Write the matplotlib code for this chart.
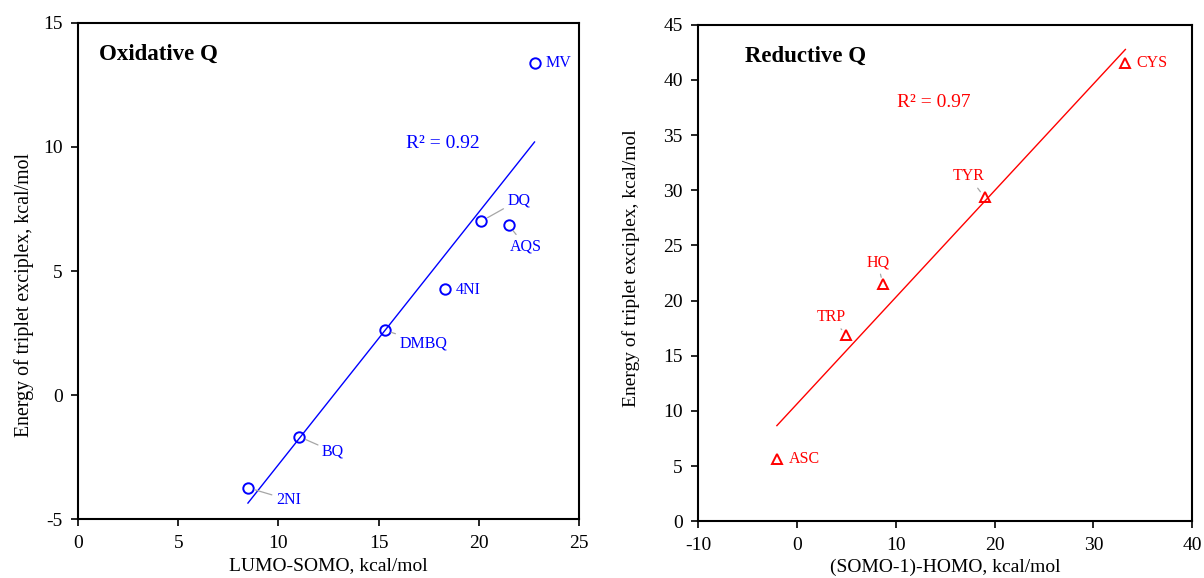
import numpy as np
import matplotlib
matplotlib.use("Agg")
import matplotlib.pyplot as plt

plt.rcParams['font.family'] = ['Liberation Serif', 'DejaVu Serif']
plt.rcParams['axes.unicode_minus'] = False

# oxidative quenchers
ox_names = ['2NI', 'BQ', 'DMBQ', '4NI', 'DQ', 'AQS', 'MV']
ox_x = [8.48, 11.03, 15.30, 18.32, 20.14, 21.50, 22.79]
ox_y = [-3.73, -1.67, 2.62, 4.28, 7.01, 6.84, 13.37]

# reductive quenchers
red_names = ['ASC', 'TRP', 'HQ', 'TYR', 'CYS']
red_x = [-2.03, 4.98, 8.68, 18.99, 33.23]
red_y = [5.65, 16.88, 21.50, 29.36, 41.50]

# label offsets in pixels (dx, dy, leader line?)
ox_offsets = {'2NI': (28, -12, True), 'BQ': (23, -15, True), 'DMBQ': (15, -13, True),
              '4NI': (11, -1, False), 'DQ': (26, 21, True), 'AQS': (1, -21, True),
              'MV': (11, 0, False)}
red_offsets = {'ASC': (12, 0, False, 'left'), 'TRP': (-15, 18, True, 'center'),
               'HQ': (-5, 22, True, 'center'), 'TYR': (-16, 21, True, 'center'),
               'CYS': (11, 0, False, 'left')}

fig = plt.figure(figsize=(12.04, 5.78), dpi=100)
ax1 = fig.add_axes([78.1/1204, 1-519.3/578, 500.7/1204, 496.6/578])
ax2 = fig.add_axes([698.1/1204, 1-521.3/578, 494.2/1204, 496.6/578])


def style(ax):
    for s in ax.spines.values():
        s.set_linewidth(1.5)
    ax.tick_params(direction='out', length=5, width=1.2, labelsize=14, pad=6)


# left panel
blue = '#0000FF'
ax1.plot(ox_x, ox_y, 'o', ms=7.5, mfc='none', mec=blue, mew=1.4, ls='none')
k, b = np.polyfit(ox_x, ox_y, 1)
xl = np.array([min(ox_x), max(ox_x)])
ax1.plot(xl, k*xl + b, color=blue, lw=1)
for n, x, y in zip(ox_names, ox_x, ox_y):
    dx, dy, lead = ox_offsets[n]
    ap = dict(arrowstyle='-', color='#a6a6a6', lw=0.9, shrinkA=1, shrinkB=5) if lead else None
    ax1.annotate(n, (x, y), xytext=(dx, dy), textcoords='offset pixels', ha='left',
                 va='center', color=blue, fontsize=11.5, arrowprops=ap)
ax1.set_xlim(0, 25)
ax1.set_ylim(-5, 15)
ax1.set_xticks(range(0, 26, 5))
ax1.set_yticks(range(-5, 16, 5))
ax1.text(0.042, 0.937, 'Oxidative Q', transform=ax1.transAxes, fontsize=16.5,
         fontweight='bold', va='center', ha='left')
ax1.text(0.655, 0.757, 'R² = 0.92', transform=ax1.transAxes, fontsize=14,
         color=blue, va='center', ha='left')
ax1.set_xlabel('LUMO-SOMO, kcal/mol', fontsize=14, labelpad=4)
ax1.set_ylabel('Energy of triplet exciplex, kcal/mol', fontsize=14.3, labelpad=6.5)
ax1.yaxis.label.set_y(0.452)
style(ax1)

# right panel
red = '#FF0000'
ax2.plot(red_x, red_y, '^', ms=7.5, mfc='none', mec=red, mew=1.4, ls='none')
k, b = np.polyfit(red_x, red_y, 1)
xr = np.array([min(red_x), max(red_x)])
ax2.plot(xr, k*xr + b, color=red, lw=1)
for n, x, y in zip(red_names, red_x, red_y):
    dx, dy, lead, ha = red_offsets[n]
    ap = dict(arrowstyle='-', color='#a6a6a6', lw=0.9, shrinkA=1, shrinkB=5) if lead else None
    ax2.annotate(n, (x, y), xytext=(dx, dy), textcoords='offset pixels', ha=ha,
                 va='center', color=red, fontsize=11.5, arrowprops=ap)
ax2.set_xlim(-10, 40)
ax2.set_ylim(0, 45)
ax2.set_xticks(range(-10, 41, 10))
ax2.set_yticks(range(0, 46, 5))
ax2.text(0.094, 0.937, 'Reductive Q', transform=ax2.transAxes, fontsize=16.5,
         fontweight='bold', va='center', ha='left')
ax2.text(0.403, 0.844, 'R² = 0.97', transform=ax2.transAxes, fontsize=14,
         color=red, va='center', ha='left')
ax2.set_xlabel('(SOMO-1)-HOMO, kcal/mol', fontsize=14, labelpad=4)
ax2.set_ylabel('Energy of triplet exciplex, kcal/mol', fontsize=14, labelpad=17)
ax2.yaxis.label.set_y(0.51)
style(ax2)

fig.savefig('out.png', dpi=100)
